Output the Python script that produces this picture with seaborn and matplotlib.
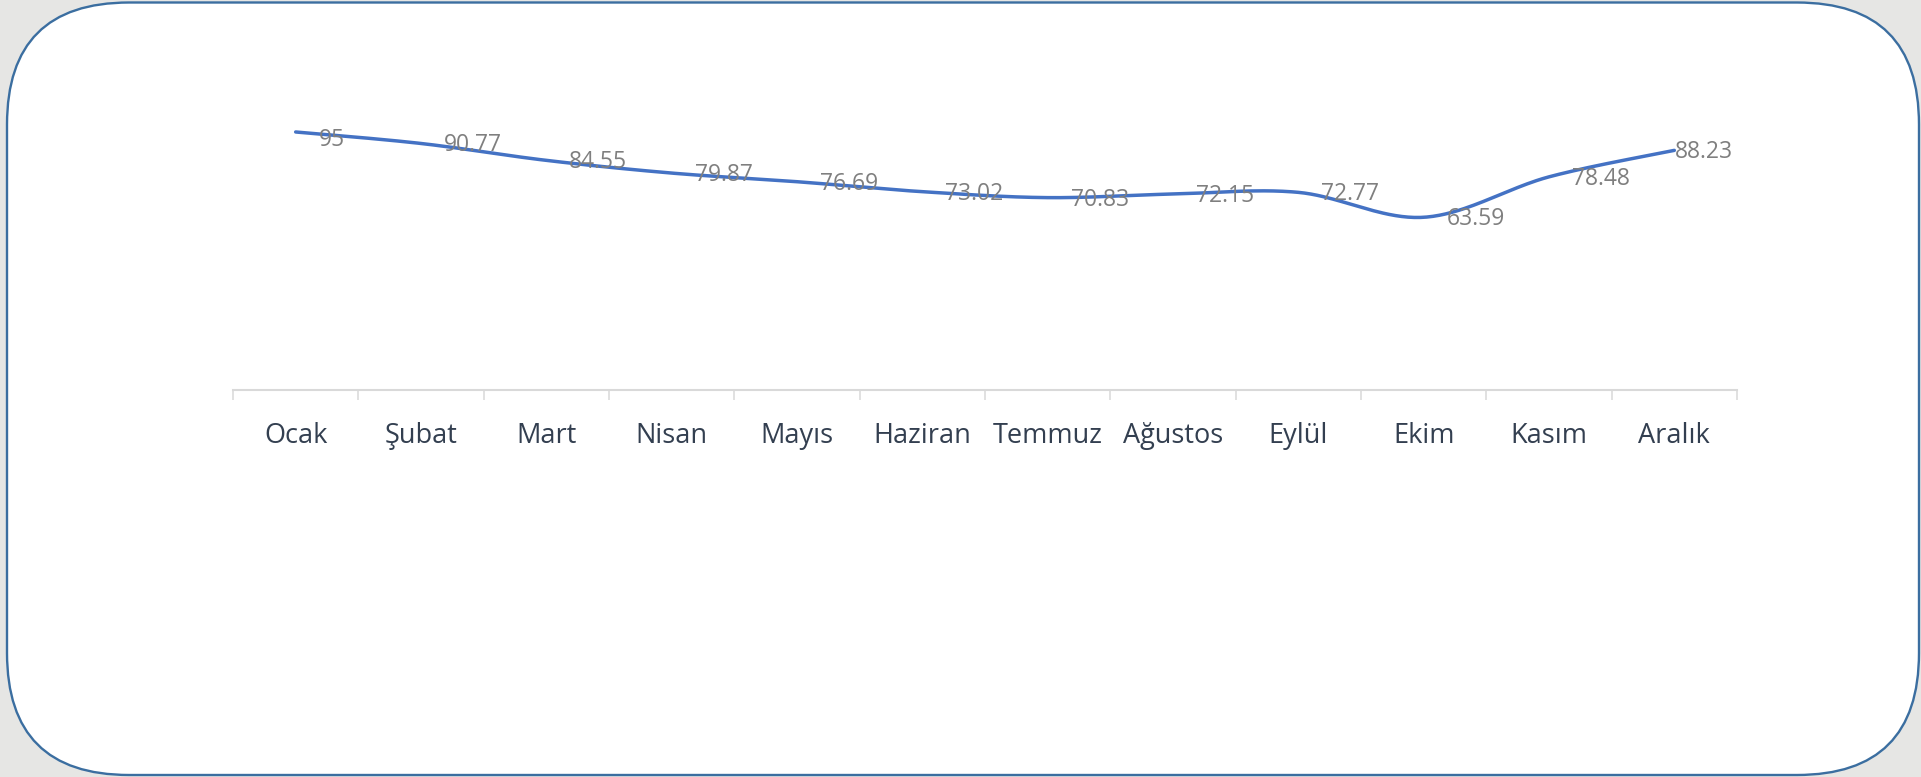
import numpy as np
import pandas as pd
import matplotlib
matplotlib.use("Agg")
import matplotlib.pyplot as plt
from matplotlib.patches import FancyBboxPatch
import seaborn as sns

# ---- data ----
months = ["Ocak", "Şubat", "Mart", "Nisan", "Mayıs", "Haziran", "Temmuz",
          "Ağustos", "Eylül", "Ekim", "Kasım", "Aralık"]
values = [95, 90.77, 84.55, 79.87, 76.69, 73.02, 70.83, 72.15, 72.77, 63.59, 78.48, 88.23]
value_labels = ["95", "90.77", "84.55", "79.87", "76.69", "73.02", "70.83",
                "72.15", "72.77", "63.59", "78.48", "88.23"]

sns.set_theme(style="white")
plt.rcParams['font.family'] = ['Open Sans', 'DejaVu Sans']

W, H = 1921, 777
fig = plt.figure(figsize=(W / 100, H / 100), dpi=100)
fig.patch.set_facecolor("#e6e6e4")

# background axes in pixel units for the rounded white panel
bg = fig.add_axes([0, 0, 1, 1], zorder=-5)
bg.set_xlim(0, W)
bg.set_ylim(H, 0)
bg.axis("off")
bg.set_facecolor("none")
panel = FancyBboxPatch((7, 2.5), 1919 - 7, 775 - 2.5,
                       boxstyle="round,pad=0,rounding_size=122",
                       facecolor="white", edgecolor="#3b6ea0", linewidth=1.7)
bg.add_patch(panel)

# axes: x from 233 to 1737 px, y=0 at 390 px, y=100 at ~118 px
left, right = 233, 1737
y0_px, y100_px = 390, 118.4
ax = fig.add_axes([left / W, 1 - y0_px / H, (right - left) / W, (y0_px - y100_px) / H])
ax.set_facecolor("none")

# smooth curve (Catmull-Rom style, as Excel's smoothed line)
x = np.arange(len(values), dtype=float)
y = np.array(values, dtype=float)
xs, ys = [], []
n = len(x)
for i in range(n - 1):
    p0 = np.array([x[max(i - 1, 0)], y[max(i - 1, 0)]])
    p1 = np.array([x[i], y[i]])
    p2 = np.array([x[i + 1], y[i + 1]])
    p3 = np.array([x[min(i + 2, n - 1)], y[min(i + 2, n - 1)]])
    c1 = p1 + (p2 - p0) / 6.0
    c2 = p2 - (p3 - p1) / 6.0
    t = np.linspace(0, 1, 40, endpoint=(i == n - 2))
    pts = ((1 - t) ** 3)[:, None] * p1 + (3 * (1 - t) ** 2 * t)[:, None] * c1 \
        + (3 * (1 - t) * t ** 2)[:, None] * c2 + (t ** 3)[:, None] * p2
    xs.extend(pts[:, 0])
    ys.extend(pts[:, 1])
curve = pd.DataFrame({"x": xs, "y": ys})
sns.lineplot(data=curve, x="x", y="y", ax=ax, sort=False, color="#4472c4",
             linewidth=2.5, solid_capstyle="round", zorder=3)

# data labels
for i, (v, lab) in enumerate(zip(values, value_labels)):
    dx = 23 if i < n - 1 else 1
    dy = -8 if i == 0 else -2
    ax.annotate(lab, (i, v), xytext=(dx, dy), textcoords="offset pixels",
                ha="left", va="center", fontsize=16.5, color="#7f7f7f", zorder=4)

ax.set_xlim(-0.5, n - 0.5)
ax.set_ylim(0, 100)
ax.set_xlabel("")
ax.set_ylabel("")
ax.set_yticks([])
ax.set_xticks(np.arange(n))
ax.set_xticklabels(months, fontsize=19.5, color="#333f50")
ax.set_xticks(np.arange(-0.5, n, 1.0), minor=True)
ax.tick_params(axis="x", which="major", length=0, pad=23)
ax.tick_params(axis="x", which="minor", length=7.5, width=1.1, color="#d9d9d9",
               direction="out", bottom=True)
for s in ["top", "left", "right"]:
    ax.spines[s].set_visible(False)
ax.spines["bottom"].set_color("#d9d9d9")
ax.spines["bottom"].set_linewidth(1.5)

fig.savefig("out.png", dpi=100, facecolor=fig.get_facecolor())
